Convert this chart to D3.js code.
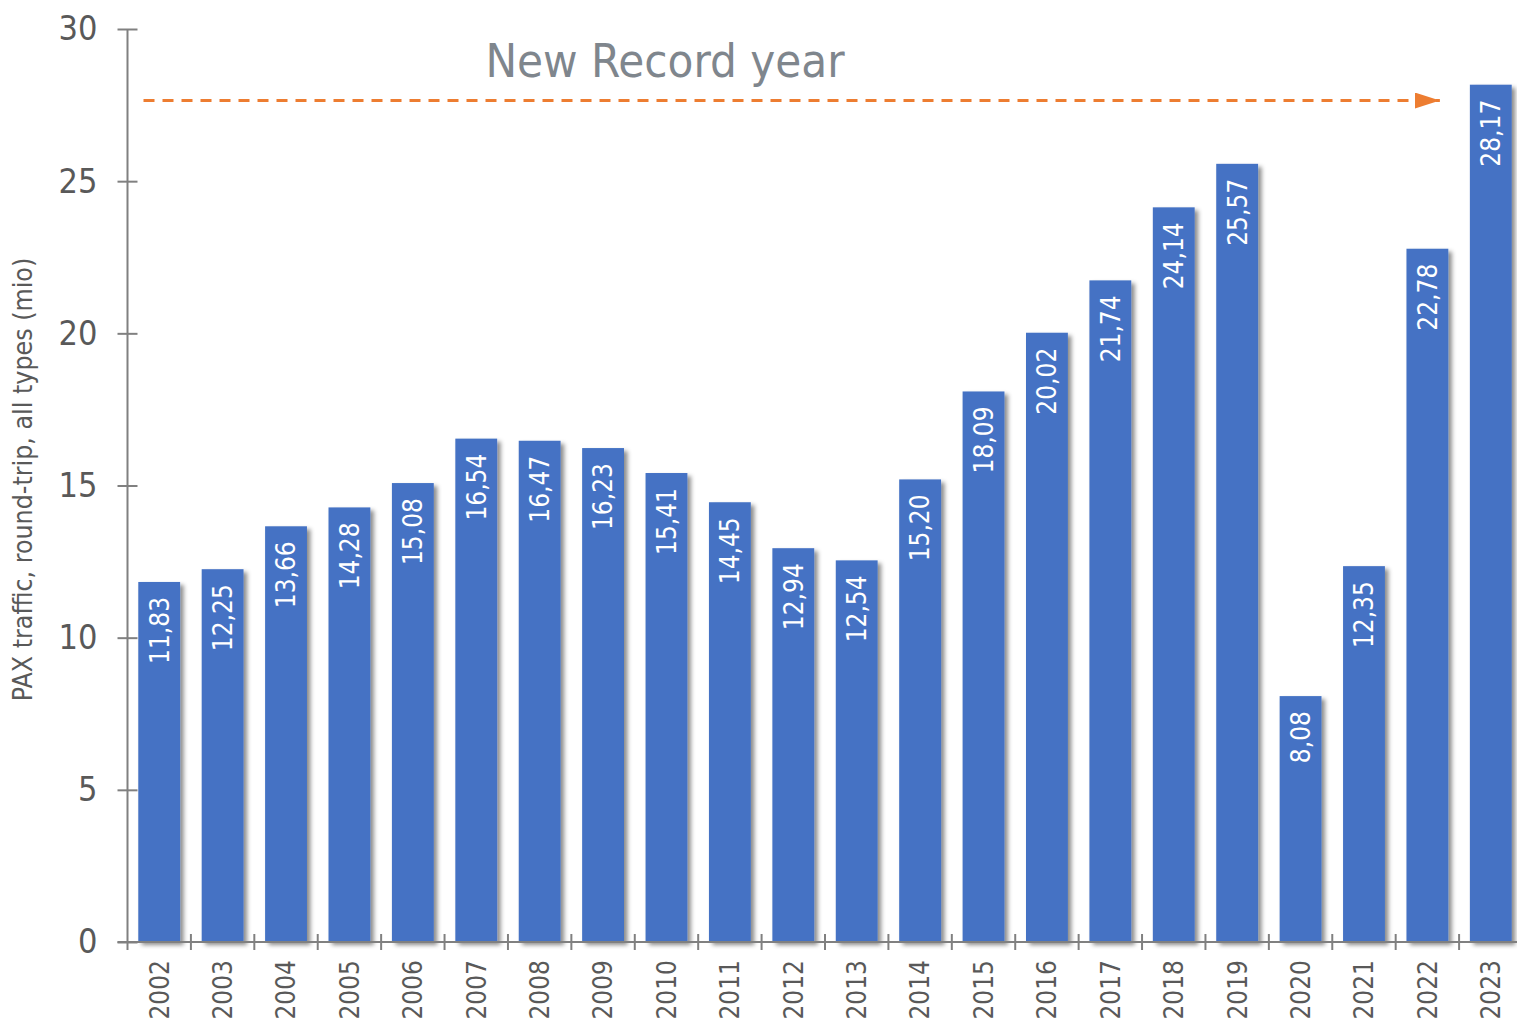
<!DOCTYPE html>
<html>
<head>
<meta charset="utf-8">
<script src="https://cdn.jsdelivr.net/npm/d3@7"></script>
<style>
  html, body { margin: 0; padding: 0; background: #ffffff; }
  svg { display: block; }
  text { font-family: "DejaVu Sans Condensed", "DejaVu Sans", sans-serif; font-stretch: condensed; }
</style>
</head>
<body>
<svg id="chart" width="1517" height="1020"></svg>
<script>
const years = ["2002","2003","2004","2005","2006","2007","2008","2009","2010","2011","2012","2013","2014","2015","2016","2017","2018","2019","2020","2021","2022","2023"];
const pax = [11.83,12.25,13.66,14.28,15.08,16.54,16.47,16.23,15.41,14.45,12.94,12.54,15.20,18.09,20.02,21.74,24.14,25.57,8.08,12.35,22.78,28.17];
const yTicks = [0,5,10,15,20,25,30];
const yTitle = "PAX traffic, round-trip, all types (mio)";
const annotationText = "New Record year";
const annotationLevel = 27.65;

(function () {
const svg = d3.select("#chart");
const mLeft = 127.5, mRight = 1522.5, mTop = 29, mBottom = 942;

const x = d3.scaleBand().domain(years).range([mLeft, mRight]).paddingInner(0.34).paddingOuter(0.17);
const xb = d3.scaleBand().domain(years).range([mLeft, mRight]);
const y = d3.scaleLinear().domain([0, 30]).range([mBottom, mTop]);

const fmt = v => v.toFixed(2).replace(".", ",");
const axisColor = "#808080";
const textColor = "#595959";

const defs = svg.append("defs");
const f = defs.append("filter").attr("id", "shadow").attr("x", "-20%").attr("y", "-5%").attr("width", "160%").attr("height", "115%");
f.append("feDropShadow").attr("dx", 3.5).attr("dy", 3).attr("stdDeviation", 2.2).attr("flood-color", "#000").attr("flood-opacity", 0.45);

defs.append("marker").attr("id", "arrow").attr("viewBox", "0 0 25 16")
  .attr("refX", 25).attr("refY", 8).attr("markerWidth", 25).attr("markerHeight", 16)
  .attr("markerUnits", "userSpaceOnUse").attr("orient", "auto")
  .append("path").attr("d", "M0,0 L25,8 L0,16 Z").attr("fill", "#ED7D31");

// bars
svg.append("g").selectAll("rect").data(pax).join("rect")
  .attr("x", (d, i) => x(years[i]))
  .attr("y", d => y(d))
  .attr("width", x.bandwidth())
  .attr("height", d => y(0) - y(d))
  .attr("fill", "#4472C4")
  .attr("filter", "url(#shadow)");

// value labels
svg.append("g").selectAll("text").data(pax).join("text")
  .attr("transform", (d, i) => `translate(${x(years[i]) + x.bandwidth() / 2},${y(d) + 15}) rotate(-90)`)
  .attr("text-anchor", "end")
  .attr("dy", "0.36em")
  .attr("fill", "#ffffff")
  .attr("font-size", 26)
  .text(d => fmt(d));

// y axis
const yAxis = svg.append("g").attr("transform", `translate(${mLeft},0)`)
  .call(d3.axisLeft(y).tickValues(yTicks).tickSize(0).tickPadding(30));
yAxis.select(".domain").attr("stroke", axisColor).attr("stroke-width", 2).attr("d", `M0,${y(0)}V${y(30)}`);
yAxis.selectAll(".tick line").remove();
yAxis.selectAll(".tick").append("line").attr("x1", -10).attr("x2", 10).attr("stroke", axisColor).attr("stroke-width", 2);
yAxis.selectAll(".tick text").attr("fill", textColor).attr("font-size", 34).attr("font-family", "DejaVu Sans Condensed, DejaVu Sans, sans-serif");

// x axis
const xAxis = svg.append("g").attr("transform", `translate(0,${mBottom})`);
xAxis.append("line").attr("x1", mLeft - 10).attr("x2", mRight).attr("stroke", axisColor).attr("stroke-width", 2);
const bounds = years.map(yr => xb(yr));
xAxis.selectAll("line.tk").data(bounds).join("line").attr("class", "tk")
  .attr("x1", d => d).attr("x2", d => d)
  .attr("y1", (d, i) => i === 0 ? 0 : -8).attr("y2", 8)
  .attr("stroke", axisColor).attr("stroke-width", 2);
xAxis.selectAll("text").data(years).join("text")
  .attr("transform", d => `translate(${xb(d) + xb.bandwidth() / 2},18) rotate(-90)`)
  .attr("text-anchor", "end")
  .attr("dy", "0.36em")
  .attr("fill", textColor)
  .attr("font-size", 26)
  .text(d => d);

// y title
svg.append("text")
  .attr("transform", `translate(22,${(mTop + mBottom) / 2 - 6}) rotate(-90)`)
  .attr("text-anchor", "middle")
  .attr("dy", "0.36em")
  .attr("fill", textColor)
  .attr("font-size", 26.5)
  .text(yTitle);

// annotation arrow
svg.append("line")
  .attr("x1", mLeft + 16)
  .attr("x2", x(years[years.length - 1]) - 30)
  .attr("y1", y(annotationLevel)).attr("y2", y(annotationLevel))
  .attr("stroke", "#ED7D31").attr("stroke-width", 3)
  .attr("stroke-dasharray", "11,8")
  .attr("marker-end", "url(#arrow)");

svg.append("text")
  .attr("x", 665).attr("y", y(annotationLevel) - 24)
  .attr("text-anchor", "middle")
  .attr("fill", "#7F868D")
  .attr("font-size", 47)
  .text(annotationText);
})();
</script>
</body>
</html>
